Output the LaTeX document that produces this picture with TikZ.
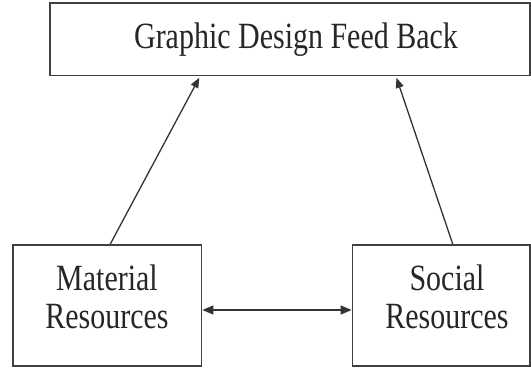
\documentclass[tikz,border=0pt]{standalone}
\usepackage{fontspec}
\setmainfont{Liberation Serif}[FakeStretch=0.81]
\usetikzlibrary{arrows.meta}

\begin{document}
\begin{tikzpicture}[x=1pt,y=-1pt]
    \tikzstyle{every node}+=[inner sep=0pt]
    \tikzstyle{box}=[draw=black!75, line width=1.8pt, rectangle]
    \tikzstyle{txt}=[text=black!85, font=\fontsize{37}{38}\selectfont, align=center]
    \tikzstyle{link}=[draw=black!80, line width=1.3pt]
    \tikzstyle{tip}=[-{Triangle[length=10pt,width=8pt]}]
    \useasboundingbox (0,0) rectangle (531,371);
    % boxes
    \node [box, minimum width=480pt, minimum height=72.5pt] (feedback) at (290,39.25) {};
    \node [box, minimum width=188.5pt, minimum height=121pt] (matbox) at (107.25,305.5) {};
    \node [box, minimum width=177.5pt, minimum height=121pt] (socbox) at (441.25,305.5) {};
    % labels
    \node [txt, anchor=base] (feedtext) at (296,49) {Graphic Design Feed Back};
    \node [txt] (mattext) at (107,297.3) {Material\\Resources};
    \node [txt] (soctext) at (447,297.3) {Social\\Resources};
    % arrows
    \draw [link, tip, shorten >=1.5pt] ([xshift=3pt]matbox.north) -- ([xshift=-90pt]feedback.south);
    \draw [link, tip, shorten >=1.5pt] ([xshift=11.5pt]socbox.north) -- ([xshift=106pt]feedback.south);
    \draw [link, {Triangle[length=11pt,width=9pt]}-{Triangle[length=11pt,width=9pt]}] ([yshift=-4.5pt]matbox.east) -- ([yshift=-4.5pt]socbox.west);
\end{tikzpicture}
\end{document}
